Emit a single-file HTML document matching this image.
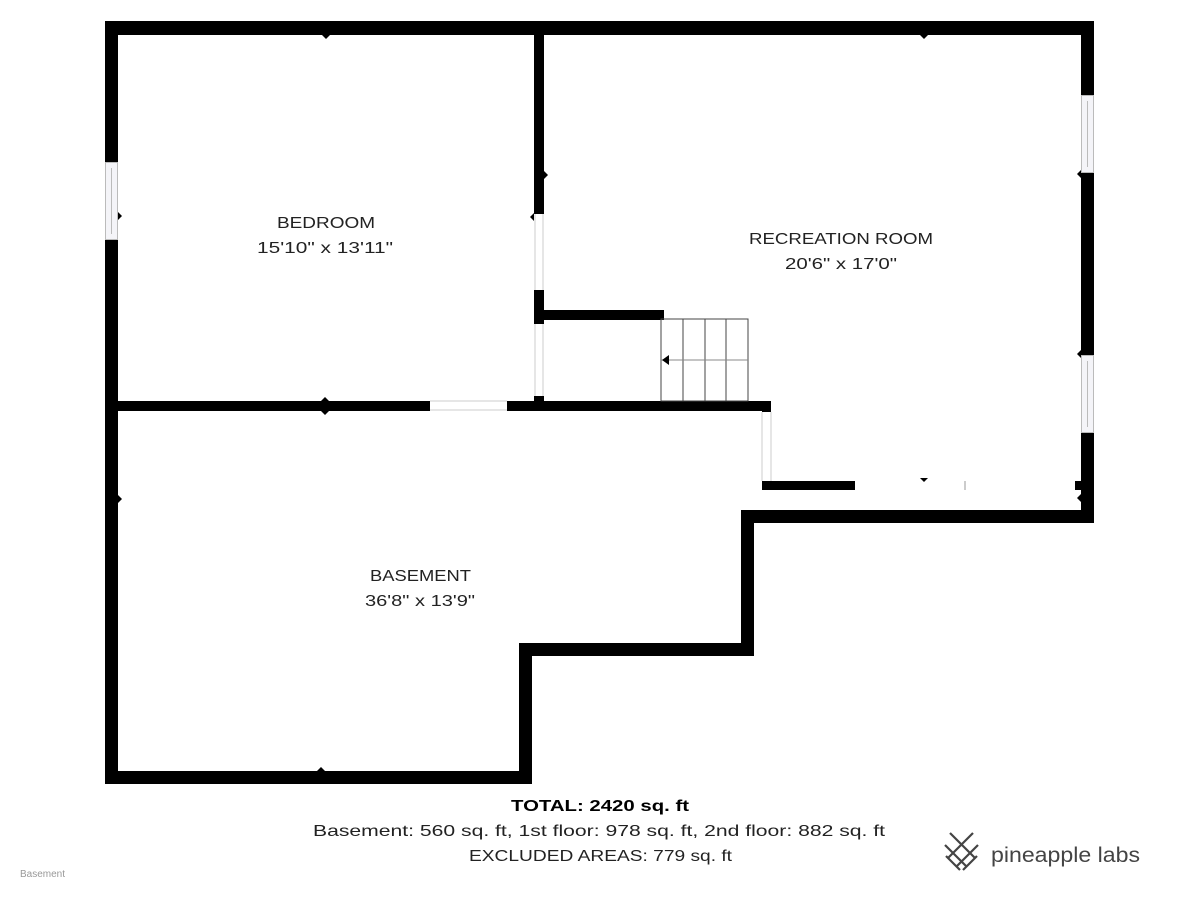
<!DOCTYPE html>
<html><head><style>
body{margin:0;width:1200px;height:900px;background:#fff;overflow:hidden;font-family:"Liberation Sans",sans-serif}
</style></head><body>
<svg width="1200" height="900" xmlns="http://www.w3.org/2000/svg" style="position:absolute;left:0;top:0">
<g fill="#000">
<rect x="105" y="21" width="989" height="14"/>
<rect x="105" y="21" width="13" height="763"/>
<rect x="1081" y="21" width="13" height="502"/>
<rect x="741" y="510" width="353" height="13"/>
<rect x="741" y="510" width="13" height="146"/>
<rect x="519" y="643" width="235" height="13"/>
<rect x="519" y="643" width="13" height="141"/>
<rect x="105" y="771" width="427" height="13"/>
<rect x="534" y="35" width="10" height="179"/>
<rect x="534" y="290" width="10" height="34"/>
<rect x="534" y="396" width="10" height="14"/>
<rect x="118" y="401" width="312" height="10"/>
<rect x="507" y="401" width="264" height="10"/>
<rect x="762" y="401" width="9" height="11"/>
<rect x="544" y="310" width="120" height="10"/>
<rect x="762" y="481" width="93" height="9"/>
<rect x="1075" y="481" width="12" height="9"/>
</g>
<g fill="#f4f4f8" stroke="#bbb" stroke-width="1">
<rect x="105.5" y="162.5" width="12" height="77"/>
<rect x="1081.5" y="95.5" width="12" height="77"/>
<rect x="1081.5" y="355.5" width="12" height="77"/>
<line x1="111.5" y1="168" x2="111.5" y2="234"/>
<line x1="1087.5" y1="101" x2="1087.5" y2="167"/>
<line x1="1087.5" y1="361" x2="1087.5" y2="427"/>
</g>
<g stroke="#ccc" stroke-width="1" fill="none">
<line x1="535" y1="214" x2="535" y2="290"/><line x1="543" y1="214" x2="543" y2="290"/>
<line x1="535" y1="324" x2="535" y2="396"/><line x1="543" y1="324" x2="543" y2="396"/>
<line x1="430" y1="401" x2="507" y2="401"/><line x1="430" y1="410" x2="507" y2="410"/>
<line x1="762" y1="412" x2="762" y2="481"/><line x1="771" y1="412" x2="771" y2="481"/>
<line x1="965" y1="481" x2="965" y2="490" stroke="#999"/>
</g>
<g stroke="#444" stroke-width="1" fill="none">
<rect x="661" y="319" width="87" height="82"/>
<line x1="683" y1="319" x2="683" y2="401"/><line x1="705" y1="319" x2="705" y2="401"/><line x1="726" y1="319" x2="726" y2="401"/>
<line x1="661" y1="360" x2="748" y2="360" stroke="#888"/>
</g>
<g fill="#000">
<polygon points="662,360 669,355 669,365"/>
<polygon points="322,35 330,35 326,39"/>
<polygon points="920,35 928,35 924,39"/>
<polygon points="544,171 544,179 548,175"/>
<polygon points="534,213 534,221 530,217"/>
<polygon points="118,212 118,220 122,216"/>
<polygon points="118,495 118,503 122,499"/>
<polygon points="321,401 329,401 325,397"/>
<polygon points="321,411 329,411 325,415"/>
<polygon points="1081,170 1081,178 1077,174"/>
<polygon points="1081,350 1081,358 1077,354"/>
<polygon points="1081,494 1081,502 1077,498"/>
<polygon points="920,478 928,478 924,482"/>
<polygon points="317,771 325,771 321,767"/>
</g>
<g font-family="Liberation Sans, sans-serif" font-size="16" fill="#222" lengthAdjust="spacingAndGlyphs">
<text x="277" y="228" textLength="98" lengthAdjust="spacingAndGlyphs">BEDROOM</text>
<text x="257" y="253" textLength="136" lengthAdjust="spacingAndGlyphs">15'10" x 13'11"</text>
<text x="749" y="244" textLength="184" lengthAdjust="spacingAndGlyphs">RECREATION ROOM</text>
<text x="785" y="269" textLength="112" lengthAdjust="spacingAndGlyphs">20'6" x 17'0"</text>
<text x="370" y="581" textLength="101" lengthAdjust="spacingAndGlyphs">BASEMENT</text>
<text x="365" y="606" textLength="110" lengthAdjust="spacingAndGlyphs">36'8" x 13'9"</text>
<text x="511" y="811" font-weight="bold" fill="#000" textLength="178" lengthAdjust="spacingAndGlyphs">TOTAL: 2420 sq. ft</text>
<text x="313" y="836" textLength="572" lengthAdjust="spacingAndGlyphs">Basement: 560 sq. ft, 1st floor: 978 sq. ft, 2nd floor: 882 sq. ft</text>
<text x="469" y="861" textLength="263" lengthAdjust="spacingAndGlyphs">EXCLUDED AREAS: 779 sq. ft</text>
</g>
<text x="20" y="877" font-family="Liberation Sans, sans-serif" font-size="10" fill="#999">Basement</text>
<g stroke="#444" stroke-width="2.2" fill="none">
<line x1="950" y1="833" x2="975" y2="858"/><line x1="945" y1="845" x2="966" y2="866"/><line x1="946" y1="856" x2="960" y2="870"/>
<line x1="973" y1="833" x2="948" y2="858"/><line x1="978" y1="845" x2="957" y2="866"/><line x1="977" y1="856" x2="963" y2="870"/>
</g>
<text x="991" y="862" font-family="Liberation Sans, sans-serif" font-size="21" fill="#444" textLength="149" lengthAdjust="spacingAndGlyphs">pineapple labs</text>
</svg>
</body></html>
